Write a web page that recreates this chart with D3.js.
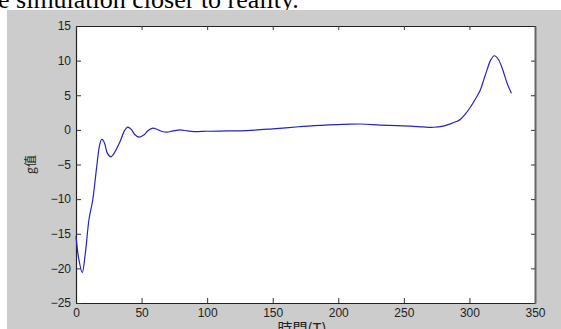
<!DOCTYPE html>
<html>
<head>
<meta charset="utf-8">
<script src="https://cdn.jsdelivr.net/npm/d3@7"></script>
<style>
  body { margin: 0; background: #fff; }
  svg { display: block; }
</style>
</head>
<body>
<svg class="chart" width="561" height="329"></svg>
<script>
// time (T) and g value
var timeValues = [0, 2, 4.8, 7, 10, 12.7, 15.8, 18, 19.6, 21.5, 24, 26.5, 29, 33.6, 37, 39.4, 42, 45, 48.3,
  52, 55, 58.5, 62, 65, 69.2, 74, 79.4, 85, 90, 100, 115, 130, 150, 170, 190, 205, 217, 232, 245, 255,
  265, 272.5, 280, 285.5, 290, 293, 297, 300.8, 305, 308.4, 311, 313.5, 316, 319, 322, 325, 328.8, 332];
var gValues = [-15.3, -18.5, -20.6, -18, -12.8, -10.2, -5.3, -2.2, -1.35, -1.8, -3.4, -3.9, -3.4, -1.7, -0.1, 0.4, 0.1, -0.7, -1.05,
  -0.7, -0.1, 0.25, 0.05, -0.2, -0.33, -0.15, 0, -0.15, -0.25, -0.2, -0.15, -0.1, 0.15, 0.45, 0.7, 0.8, 0.85, 0.7, 0.6, 0.55,
  0.42, 0.38, 0.55, 0.87, 1.2, 1.5, 2.3, 3.3, 4.6, 5.8, 7.3, 8.7, 10, 10.7, 10.2, 8.9, 6.7, 5.3];
var xTicks = [0, 50, 100, 150, 200, 250, 300, 350];
var yTicks = [15, 10, 5, 0, -5, -10, -15, -20, -25];

var svg = d3.select('.chart');

// caption text cut off above the figure
svg.append('text')
  .attr('x', -2).attr('y', 8)
  .style('font-family', '"Liberation Serif", "Times New Roman", serif')
  .style('font-size', '26px')
  .attr('fill', '#000')
  .text('e simulation closer to reality.');

// grey figure background
svg.append('rect')
  .attr('x', 7).attr('y', 10)
  .attr('width', 554).attr('height', 319)
  .attr('fill', '#cccccc');

var plotLeft = 76, plotRight = 535, plotTop = 26, plotBottom = 303;

var x = d3.scaleLinear().domain([0, 350]).range([plotLeft, plotRight]);
var y = d3.scaleLinear().domain([-25, 15]).range([plotBottom, plotTop]);

svg.append('rect')
  .attr('x', plotLeft).attr('y', plotTop)
  .attr('width', plotRight - plotLeft).attr('height', plotBottom - plotTop)
  .attr('fill', '#fff');

var font = '"Liberation Sans", Arial, sans-serif';

// bottom axis, ticks inward
var xAxis = svg.append('g')
  .attr('transform', 'translate(0,' + plotBottom + ')')
  .call(d3.axisBottom(x).tickValues(xTicks).tickSizeInner(-5).tickSizeOuter(0).tickPadding(5));
// left axis, ticks inward
var yAxis = svg.append('g')
  .attr('transform', 'translate(' + plotLeft + ',0)')
  .call(d3.axisLeft(y).tickValues(yTicks).tickSizeInner(-5).tickSizeOuter(0).tickPadding(5));
// mirrored ticks on top and right
var xTop = svg.append('g')
  .attr('transform', 'translate(0,' + plotTop + ')')
  .call(d3.axisTop(x).tickValues(xTicks).tickSizeInner(-4).tickSizeOuter(0).tickFormat(''));
var yRight = svg.append('g')
  .attr('transform', 'translate(' + plotRight + ',0)')
  .call(d3.axisRight(y).tickValues(yTicks).tickSizeInner(-4).tickSizeOuter(0).tickFormat(''));

[xAxis, yAxis, xTop, yRight].forEach(function(g) {
  g.selectAll('path').attr('stroke', '#222').attr('stroke-width', 1.2);
  g.selectAll('line').attr('stroke', '#333');
  g.selectAll('text')
    .style('font-family', font)
    .style('font-size', '12px')
    .attr('fill', '#222');
});
yRight.select('path').attr('stroke', '#666').attr('stroke-width', 2);

var line = d3.line()
  .x(function(d, i) { return x(timeValues[i]) })
  .y(function(d) { return y(d) })
  .curve(d3.curveCatmullRom);

svg.append('path')
  .datum(gValues)
  .attr('d', line)
  .attr('fill', 'none')
  .attr('stroke', '#2424c0')
  .attr('stroke-width', 1.2);

// axis titles
svg.append('text')
  .attr('x', 302).attr('y', 334)
  .attr('text-anchor', 'middle')
  .style('font-family', '"Noto Sans CJK TC", "Noto Sans CJK SC", sans-serif')
  .style('font-size', '15px')
  .attr('fill', '#222')
  .text('時間(T)');

svg.append('text')
  .attr('transform', 'translate(35,' + ((plotTop + plotBottom) / 2) + ') rotate(-90)')
  .attr('text-anchor', 'middle')
  .style('font-family', '"Noto Sans CJK TC", "Noto Sans CJK SC", sans-serif')
  .style('font-size', '12px')
  .attr('fill', '#222')
  .text('g值');
</script>
</body>
</html>
